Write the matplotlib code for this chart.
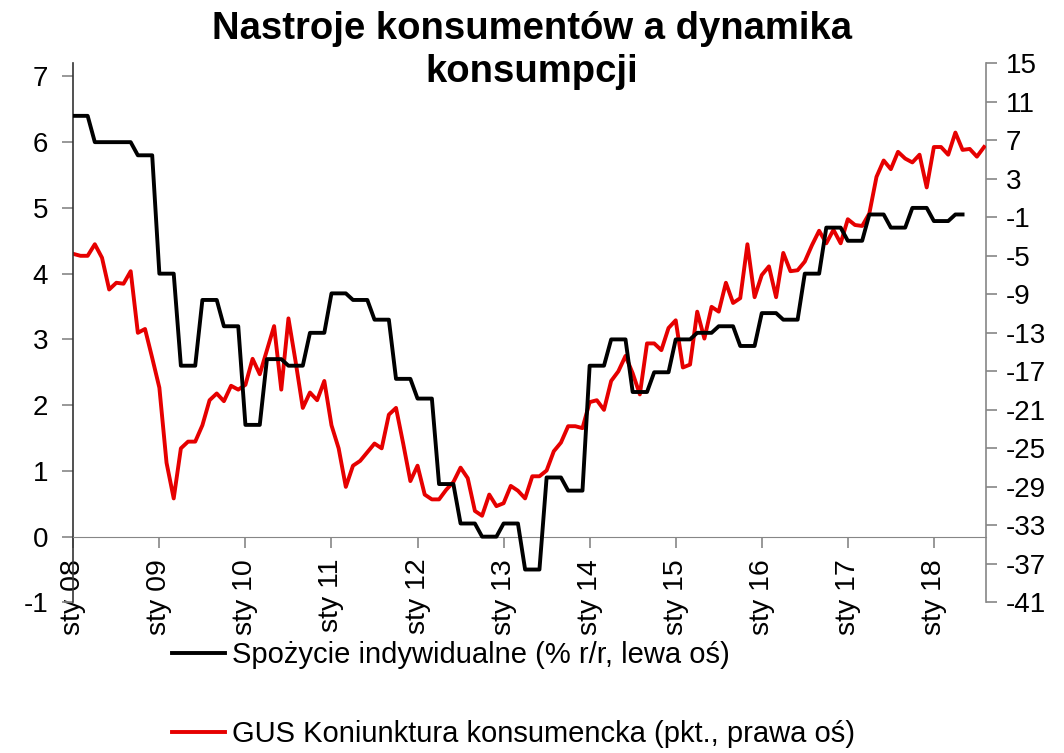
import numpy as np
import matplotlib
matplotlib.use('Agg')
import matplotlib.pyplot as plt

plt.rcParams['font.family'] = ['Liberation Sans', 'DejaVu Sans']
plt.rcParams['axes.unicode_minus'] = False

# Spozycie indywidualne, kwartalnie (% r/r) - Q1 2008 .. Q2 2018
spozycie_q = [6.4, 6.0, 6.0, 5.8,
              4.0, 2.6, 3.6, 3.2,
              1.7, 2.7, 2.6, 3.1,
              3.7, 3.6, 3.3, 2.4,
              2.1, 0.8, 0.2, 0.0,
              0.2, -0.5, 0.9, 0.7,
              2.6, 3.0, 2.2, 2.5,
              3.0, 3.1, 3.2, 2.9,
              3.4, 3.3, 4.0, 4.7,
              4.5, 4.9, 4.7, 5.0,
              4.8, 4.9]
spozycie_months = 125  # monthly points shown (Jan 2008 .. May 2018)

# GUS koniunktura konsumencka, miesiecznie (pkt.) - Jan 2008 .. Aug 2018
gus = [-4.8, -5.0, -5.0, -3.8, -5.2, -8.5, -7.8, -7.9, -6.6, -13.0, -12.6, -15.6,
       -18.7, -26.5, -30.2, -25.0, -24.3, -24.3, -22.6, -20.0, -19.3, -20.1, -18.5, -18.9,
       -18.4, -15.7, -17.3, -14.8, -12.3, -18.9, -11.5, -16.0, -20.8, -19.2, -20.0, -18.0,
       -22.6, -25.0, -29.0, -26.8, -26.3, -25.4, -24.5, -25.0, -21.5, -20.8, -24.5, -28.4,
       -26.8, -29.8, -30.3, -30.3, -29.3, -28.5, -27.0, -28.1, -31.5, -32.0, -29.8, -31.0,
       -30.7, -28.9, -29.4, -30.2, -27.9, -27.9, -27.3, -25.3, -24.4, -22.7, -22.7, -22.9,
       -20.2, -20.0, -21.0, -18.0, -17.0, -15.4, -17.2, -19.4, -14.1, -14.1, -14.8, -12.5,
       -11.7, -16.6, -16.3, -10.8, -13.6, -10.3, -10.8, -7.8, -9.9, -9.4, -3.8, -9.3,
       -7.0, -6.1, -9.3, -4.7, -6.6, -6.5, -5.6, -3.9, -2.4, -3.7, -2.3, -3.7,
       -1.2, -1.8, -1.9, -0.6, 3.2, 4.9, 4.0, 5.8, 5.1, 4.7, 5.5, 2.1,
       6.3, 6.3, 5.5, 7.8, 6.0, 6.1, 5.3, 6.3]

year_labels = ['sty 08', 'sty 09', 'sty 10', 'sty 11', 'sty 12', 'sty 13',
               'sty 14', 'sty 15', 'sty 16', 'sty 17', 'sty 18']

label_black = 'Spożycie indywidualne (% r/r, lewa oś)'
label_red = 'GUS Koniunktura konsumencka (pkt., prawa oś)'

spozycie = np.repeat(spozycie_q, 3)[:spozycie_months]
x_black = np.arange(len(spozycie))
x_red = np.arange(len(gus))

fig = plt.figure(figsize=(10.64, 7.53), dpi=100)
ax = fig.add_axes([0.0689, 0.2, 0.858, 0.716])
ax2 = ax.twinx()

grey = '#868686'
red = '#e60000'

ax.plot(x_black, spozycie, color='black', lw=2.8, zorder=3)
ax2.plot(x_red, gus, color=red, lw=2.8, zorder=3)
ax.set_zorder(ax2.get_zorder() + 1)
ax.patch.set_visible(False)

# x axis crosses the left axis at 0
ax.spines['bottom'].set_position(('data', 0))
ax.spines['bottom'].set_color(grey)

ax.set_xlim(0, 127.3)
ax.set_ylim(-1, 7.2)
ax2.set_ylim(-41, 15)
ax.set_yticks(range(-1, 8))
ax2.set_yticks(range(-41, 16, 4))

ax.set_xticks(range(0, 121, 12))
ax.set_xticklabels(year_labels)
ax.tick_params(axis='x', direction='out', length=8, width=1.2, color=grey,
               pad=8, labelsize=20.5, labelrotation=90)

for a in (ax, ax2):
    a.spines['top'].set_visible(False)
ax2.spines['bottom'].set_visible(False)
ax2.spines['left'].set_visible(False)
ax.spines['right'].set_visible(False)
ax.spines['left'].set_color('#333333')
ax2.spines['right'].set_color(grey)
ax.spines['left'].set_linewidth(1.2)
ax2.spines['right'].set_linewidth(1.2)

ax.tick_params(axis='y', direction='out', length=8, width=1.2, color=grey,
               labelsize=20, pad=10)
ax2.tick_params(axis='y', direction='out', length=8, width=1.2, color=grey,
                labelsize=20, pad=6)

fig.text(0.5, 1 - 11 / 753, 'Nastroje konsumentów a dynamika\nkonsumpcji', ha='center',
         va='top', fontsize=27.5, fontweight='bold', linespacing=1.25)

fig.legend([plt.Line2D([], [], color='black', lw=2.8),
            plt.Line2D([], [], color=red, lw=2.8)],
           [label_black, label_red], loc='upper left',
           bbox_to_anchor=(0.1617, 1 - 641 / 753), frameon=False, fontsize=21,
           handlelength=1.8, handletextpad=0.25, labelspacing=1.75,
           borderpad=0, borderaxespad=0)

fig.savefig('out.png', dpi=100)
